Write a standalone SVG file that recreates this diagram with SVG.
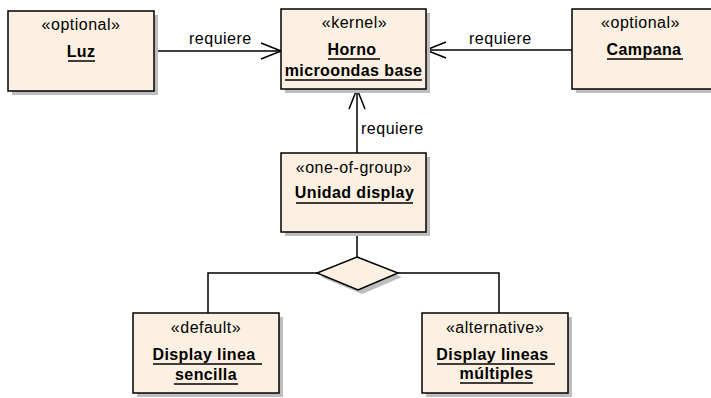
<svg xmlns="http://www.w3.org/2000/svg" width="711" height="398" viewBox="0 0 711 398">
  <style>
    .box { fill: #FBF0E1; stroke: #000; stroke-width: 1.5; }
    .shadow { fill: #BDBDBD; stroke: none; }
    .st { font-family: "Liberation Sans", Arial, sans-serif; font-size: 16px; letter-spacing: 0.5px; fill: #000; text-anchor: middle; }
    .nm { font-family: "Liberation Sans", Arial, sans-serif; font-size: 16px; font-weight: bold; letter-spacing: 0.4px; fill: #000; text-anchor: middle; }
    .lbl { font-family: "Liberation Sans", Arial, sans-serif; font-size: 16px; letter-spacing: 0.5px; fill: #000; }
    .ul { stroke: #000; stroke-width: 1.5; }
    .edge { fill: none; stroke: #000; stroke-width: 1.5; }
  </style>
  <defs>
    <marker id="open" viewBox="0 0 22 18" refX="21" refY="9" markerWidth="22" markerHeight="18" markerUnits="userSpaceOnUse" orient="auto">
      <path d="M1,1 L21,9 L1,17" fill="none" stroke="#000" stroke-width="1.5"/>
    </marker>
  </defs>
  <rect width="711" height="398" fill="#fff"/>

  <!-- connectors -->
  <g id="connectors">
    <line class="edge" x1="154" y1="51" x2="281" y2="51" marker-end="url(#open)"/>
    <text class="lbl" x="189" y="44">requiere</text>
    <line class="edge" x1="572" y1="50" x2="426" y2="50" marker-end="url(#open)"/>
    <text class="lbl" x="469" y="44">requiere</text>
    <line class="edge" x1="357" y1="153" x2="357" y2="89" marker-end="url(#open)"/>
    <text class="lbl" x="361" y="134">requiere</text>
    <line class="edge" x1="357" y1="232" x2="357" y2="257"/>
    <polyline class="edge" points="317,273 208,273 208,313"/>
    <polyline class="edge" points="398,273 499,273 499,313"/>
  </g>

  <!-- variation point diamond -->
  <g id="group-choice">
    <polygon class="shadow" points="361,261 402,277 362,294 321,277"/>
    <polygon class="box" points="357,257 398,273 358,290 317,273"/>
  </g>

  <g id="luz">
    <rect class="shadow" x="12" y="15" width="146" height="80"/>
    <rect class="box" x="8" y="11" width="146" height="80"/>
    <text class="st" x="81" y="30">«optional»</text>
    <text class="nm" x="81" y="57">Luz</text>
    <line class="ul" x1="68" y1="61" x2="95" y2="61"/>
  </g>

  <g id="horno">
    <rect class="shadow" x="285" y="13" width="145" height="80"/>
    <rect class="box" x="281" y="9" width="145" height="80"/>
    <text class="st" x="354.5" y="28">«kernel»</text>
    <text class="nm" x="352" y="55">Horno</text>
    <line class="ul" x1="328" y1="59" x2="380" y2="59"/>
    <text class="nm" x="353.5" y="76">microondas base</text>
    <line class="ul" x1="285" y1="80" x2="422" y2="80"/>
  </g>

  <g id="campana">
    <rect class="shadow" x="576" y="13" width="146" height="80"/>
    <rect class="box" x="572" y="9" width="146" height="80"/>
    <text class="st" x="640.5" y="28">«optional»</text>
    <text class="nm" x="644" y="55">Campana</text>
    <line class="ul" x1="607" y1="59" x2="683" y2="59"/>
  </g>

  <g id="unidad-display">
    <rect class="shadow" x="285" y="157" width="145" height="79"/>
    <rect class="box" x="281" y="153" width="145" height="79"/>
    <text class="st" x="354" y="173">«one-of-group»</text>
    <text class="nm" x="354.5" y="198">Unidad display</text>
    <line class="ul" x1="296" y1="203" x2="413" y2="203"/>
  </g>

  <g id="display-sencilla">
    <rect class="shadow" x="137" y="317" width="146" height="80"/>
    <rect class="box" x="133" y="313" width="146" height="80"/>
    <text class="st" x="206" y="333">«default»</text>
    <text class="nm" x="204" y="360">Display linea</text>
    <line class="ul" x1="153" y1="364" x2="262" y2="364"/>
    <text class="nm" x="206" y="380">sencilla</text>
    <line class="ul" x1="174" y1="384" x2="238" y2="384"/>
  </g>

  <g id="display-multiples">
    <rect class="shadow" x="426" y="317" width="146" height="80"/>
    <rect class="box" x="422" y="313" width="146" height="80"/>
    <text class="st" x="495" y="333">«alternative»</text>
    <text class="nm" x="492.5" y="360">Display lineas</text>
    <line class="ul" x1="437" y1="364" x2="555" y2="364"/>
    <text class="nm" x="496.5" y="379">múltiples</text>
    <line class="ul" x1="460" y1="383" x2="533" y2="383"/>
  </g>
</svg>
